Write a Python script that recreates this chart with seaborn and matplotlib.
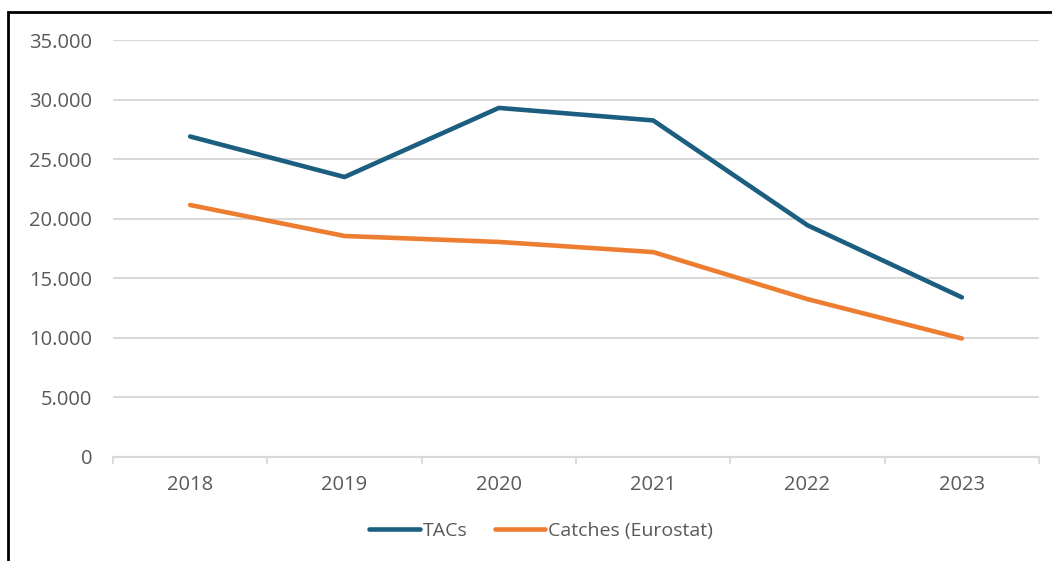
import matplotlib
matplotlib.use("Agg")
import matplotlib.pyplot as plt
import seaborn as sns
import pandas as pd
import numpy as np
from matplotlib.patches import Rectangle
from matplotlib.lines import Line2D

years = ["2018", "2019", "2020", "2021", "2022", "2023"]
tacs = [26900, 23500, 29300, 28250, 19450, 13400]
catches = [21150, 18550, 18050, 17200, 13250, 9950]
series_names = ["TACs", "Catches (Eurostat)"]
colors = ["#1b5e80", "#ed7d31"]
y_ticks = [0, 5000, 10000, 15000, 20000, 25000, 30000, 35000]
y_labels = ["0", "5.000", "10.000", "15.000", "20.000", "25.000", "30.000", "35.000"]

sns.set_theme(style="white")
plt.rcParams["font.family"] = ["Open Sans", "DejaVu Sans"]

df = pd.DataFrame({
    "pos": list(range(len(years))) * 2,
    "value": tacs + catches,
    "series": [series_names[0]] * len(years) + [series_names[1]] * len(years),
})

W, H = 1052, 561
fig = plt.figure(figsize=(W / 100, H / 100), dpi=100)
ax = fig.add_axes([113 / W, 1 - 457 / H, (1039 - 113) / W, (457 - 40) / H])

sns.lineplot(data=df, x="pos", y="value", hue="series", palette=colors,
             linewidth=3.3, ax=ax, legend=False, zorder=3)
for l in ax.lines:
    l.set_solid_capstyle("round")
    l.set_solid_joinstyle("round")

txt = "#595959"
grid = "#d9d9d9"
fs = 14.5
ax.set_ylim(0, 35000)
ax.set_xlim(-0.5, len(years) - 0.5)
ax.set_yticks(y_ticks)
ax.set_yticklabels(y_labels, color=txt, fontsize=fs)
ax.set_xticks(range(len(years)))
ax.set_xticklabels(years, color=txt, fontsize=fs)
ax.set_xticks(np.arange(-0.5, len(years)), minor=True)
ax.tick_params(axis="y", left=False, length=0, pad=15)
ax.tick_params(axis="x", which="major", bottom=True, length=0, pad=13)
ax.tick_params(axis="x", which="minor", bottom=True, length=5, width=1.3, color=grid, direction="out")
ax.yaxis.grid(True, color=grid, linewidth=1.5)
ax.set_axisbelow(True)
for s in ["top", "right", "left"]:
    ax.spines[s].set_visible(False)
ax.spines["bottom"].set_color(grid)
ax.spines["bottom"].set_linewidth(1.5)
ax.set_xlabel("")
ax.set_ylabel("")

handles = [Line2D([0], [0], color=c, lw=3.3, solid_capstyle="round") for c in colors]
leg = fig.legend(handles, series_names, loc="center", bbox_to_anchor=(541 / W, 1 - 531 / H),
                 ncol=2, frameon=False, fontsize=14, handlelength=2.6, handletextpad=0.15,
                 columnspacing=1.4, labelcolor=txt)

fig.patches.append(Rectangle((8 / W, -0.1), 1.2, (1 - 12 / H) + 0.1, transform=fig.transFigure,
                             fill=False, edgecolor="black", linewidth=2, zorder=10))

fig.savefig("out.png", dpi=100)
